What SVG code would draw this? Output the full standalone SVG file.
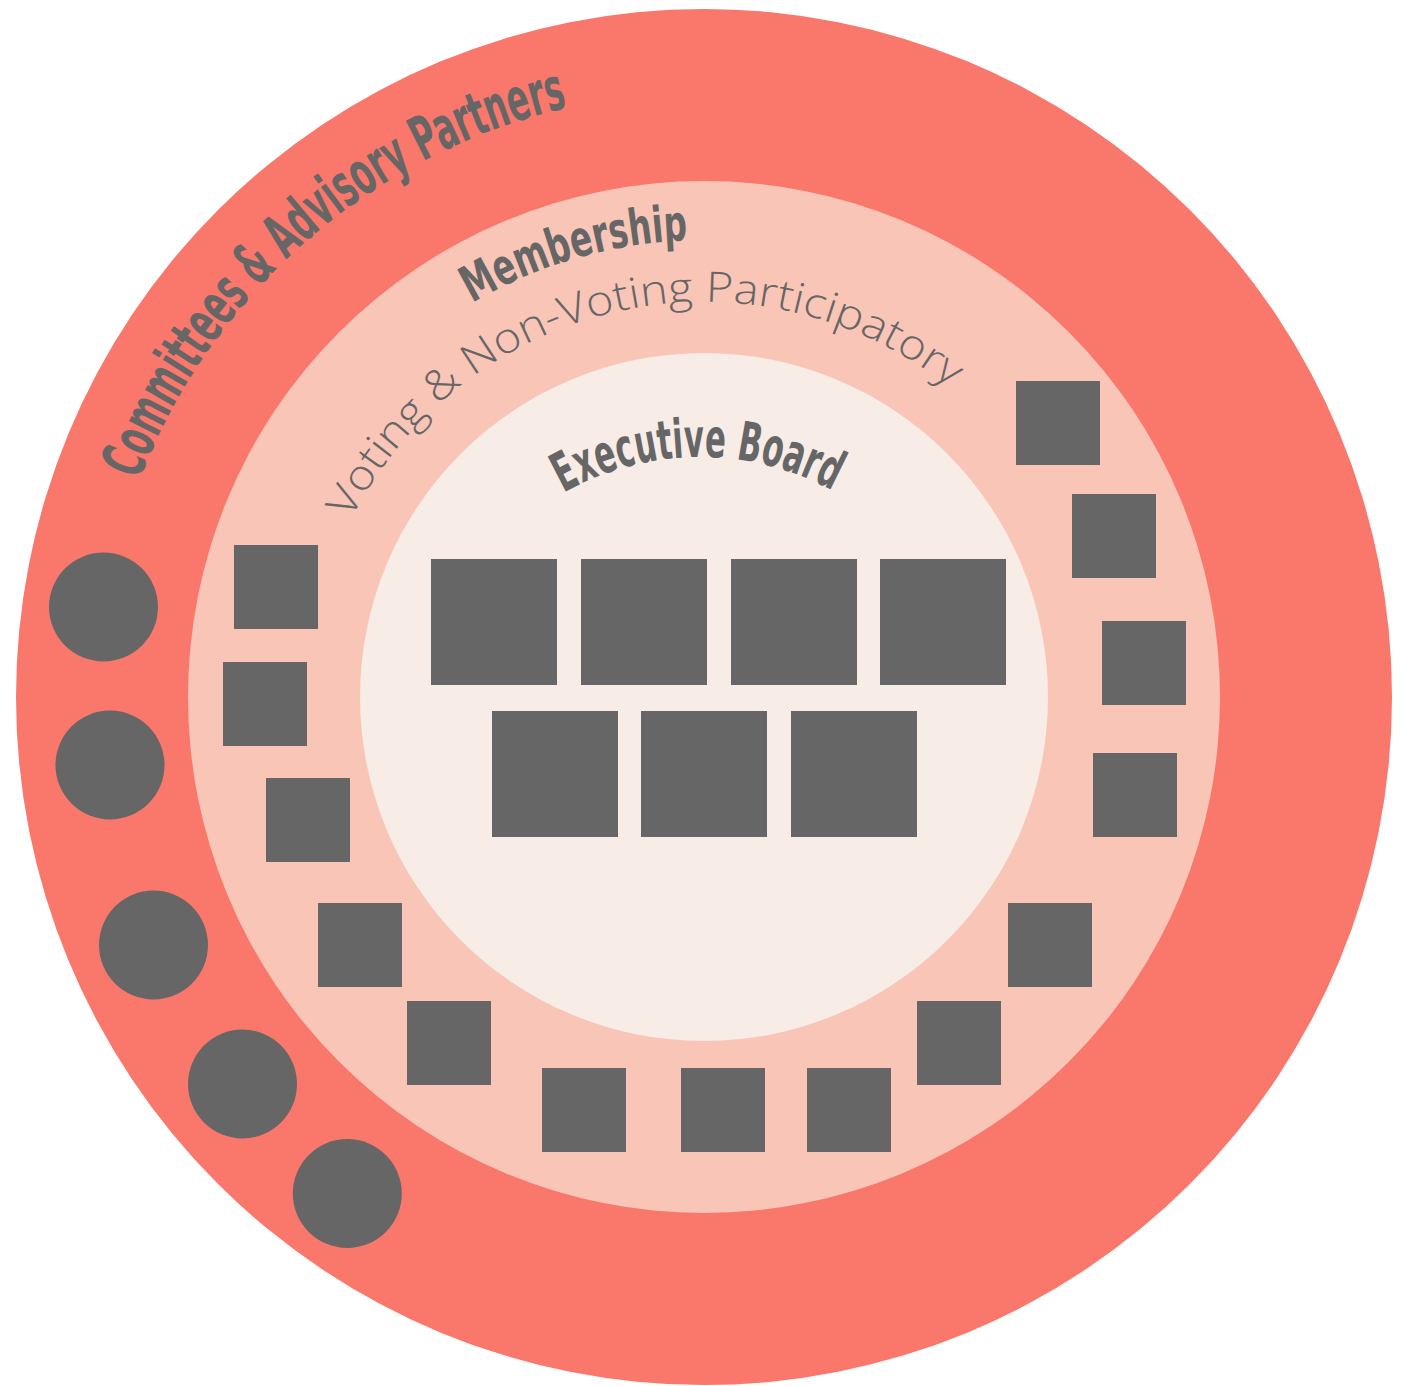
<svg xmlns="http://www.w3.org/2000/svg" xmlns:xlink="http://www.w3.org/1999/xlink" width="1404" height="1386" viewBox="0 0 1404 1386">
<style>
.bg{fill:#ffffff}
.outer{fill:#FA776B}
.middle{fill:#F9C5B7}
.inner{fill:#F7ECE6}
.sq{fill:#666666}
.dot{fill:#666666}
.cond{font-family:"Liberation Sans Narrow","DejaVu Sans Condensed","Open Sans","Liberation Sans",sans-serif;font-weight:bold;font-stretch:condensed;fill:#666666}
.light{font-family:"Open Sans","Lato","Liberation Sans",sans-serif;font-weight:300;fill:#666666}
</style>
<defs>
<path id="pCommittees" d="M 139.2 480.2 A 605 605 0 0 1 651.3 94.3"/>
<path id="pMembership" d="M 472.1 303.2 A 457 457 0 0 1 783.4 246.9"/>
<path id="pVoting" d="M 351.1 519.5 A 395 395 0 0 1 1011.6 449.0"/>
<path id="pExecutive" d="M 563.5 492.8 A 278 278 0 0 1 859.5 507.3"/>
</defs>
<rect class="bg" x="0" y="0" width="1404" height="1386"/>
<g id="ring-committees">
<circle class="outer" cx="704" cy="697" r="688"/>
<text class="cond" font-size="60"><textPath href="#pCommittees" xlink:href="#pCommittees" textLength="591" lengthAdjust="spacingAndGlyphs">Committees &amp; Advisory Partners</textPath></text>
</g>
<g id="ring-membership">
<circle class="middle" cx="704" cy="697" r="516"/>
<text class="cond" font-size="50"><textPath href="#pMembership" xlink:href="#pMembership" textLength="227" lengthAdjust="spacingAndGlyphs">Membership</textPath></text>
<text class="light" font-size="42"><textPath href="#pVoting" xlink:href="#pVoting" textLength="702" lengthAdjust="spacingAndGlyphs">Voting &amp; Non-Voting Participatory</textPath></text>
</g>
<g id="ring-executive">
<circle class="inner" cx="704" cy="697" r="344"/>
<text class="cond" font-size="54"><textPath href="#pExecutive" xlink:href="#pExecutive" textLength="281" lengthAdjust="spacingAndGlyphs">Executive Board</textPath></text>
</g>
<g id="executive-seats">
<g id="exec-1"><rect class="sq" x="431" y="559" width="126" height="126"/></g>
<g id="exec-2"><rect class="sq" x="581" y="559" width="126" height="126"/></g>
<g id="exec-3"><rect class="sq" x="731" y="559" width="126" height="126"/></g>
<g id="exec-4"><rect class="sq" x="880" y="559" width="126" height="126"/></g>
<g id="exec-5"><rect class="sq" x="492" y="711" width="126" height="126"/></g>
<g id="exec-6"><rect class="sq" x="641" y="711" width="126" height="126"/></g>
<g id="exec-7"><rect class="sq" x="791" y="711" width="126" height="126"/></g>
</g>
<g id="member-seats">
<g id="member-1"><rect class="sq" x="234" y="545" width="84" height="84"/></g>
<g id="member-2"><rect class="sq" x="223" y="662" width="84" height="84"/></g>
<g id="member-3"><rect class="sq" x="266" y="778" width="84" height="84"/></g>
<g id="member-4"><rect class="sq" x="318" y="903" width="84" height="84"/></g>
<g id="member-5"><rect class="sq" x="407" y="1001" width="84" height="84"/></g>
<g id="member-6"><rect class="sq" x="542" y="1068" width="84" height="84"/></g>
<g id="member-7"><rect class="sq" x="681" y="1068" width="84" height="84"/></g>
<g id="member-8"><rect class="sq" x="807" y="1068" width="84" height="84"/></g>
<g id="member-9"><rect class="sq" x="917" y="1001" width="84" height="84"/></g>
<g id="member-10"><rect class="sq" x="1008" y="903" width="84" height="84"/></g>
<g id="member-11"><rect class="sq" x="1093" y="753" width="84" height="84"/></g>
<g id="member-12"><rect class="sq" x="1102" y="621" width="84" height="84"/></g>
<g id="member-13"><rect class="sq" x="1072" y="494" width="84" height="84"/></g>
<g id="member-14"><rect class="sq" x="1016" y="381" width="84" height="84"/></g>
</g>
<g id="committee-seats">
<g id="committee-1"><circle class="dot" cx="103.5" cy="607" r="54.5"/></g>
<g id="committee-2"><circle class="dot" cx="110" cy="765" r="54.5"/></g>
<g id="committee-3"><circle class="dot" cx="153.5" cy="945" r="54.5"/></g>
<g id="committee-4"><circle class="dot" cx="242.5" cy="1084" r="54.5"/></g>
<g id="committee-5"><circle class="dot" cx="347.3" cy="1193.5" r="54.5"/></g>
</g>
<g id="connectors"></g>
</svg>
